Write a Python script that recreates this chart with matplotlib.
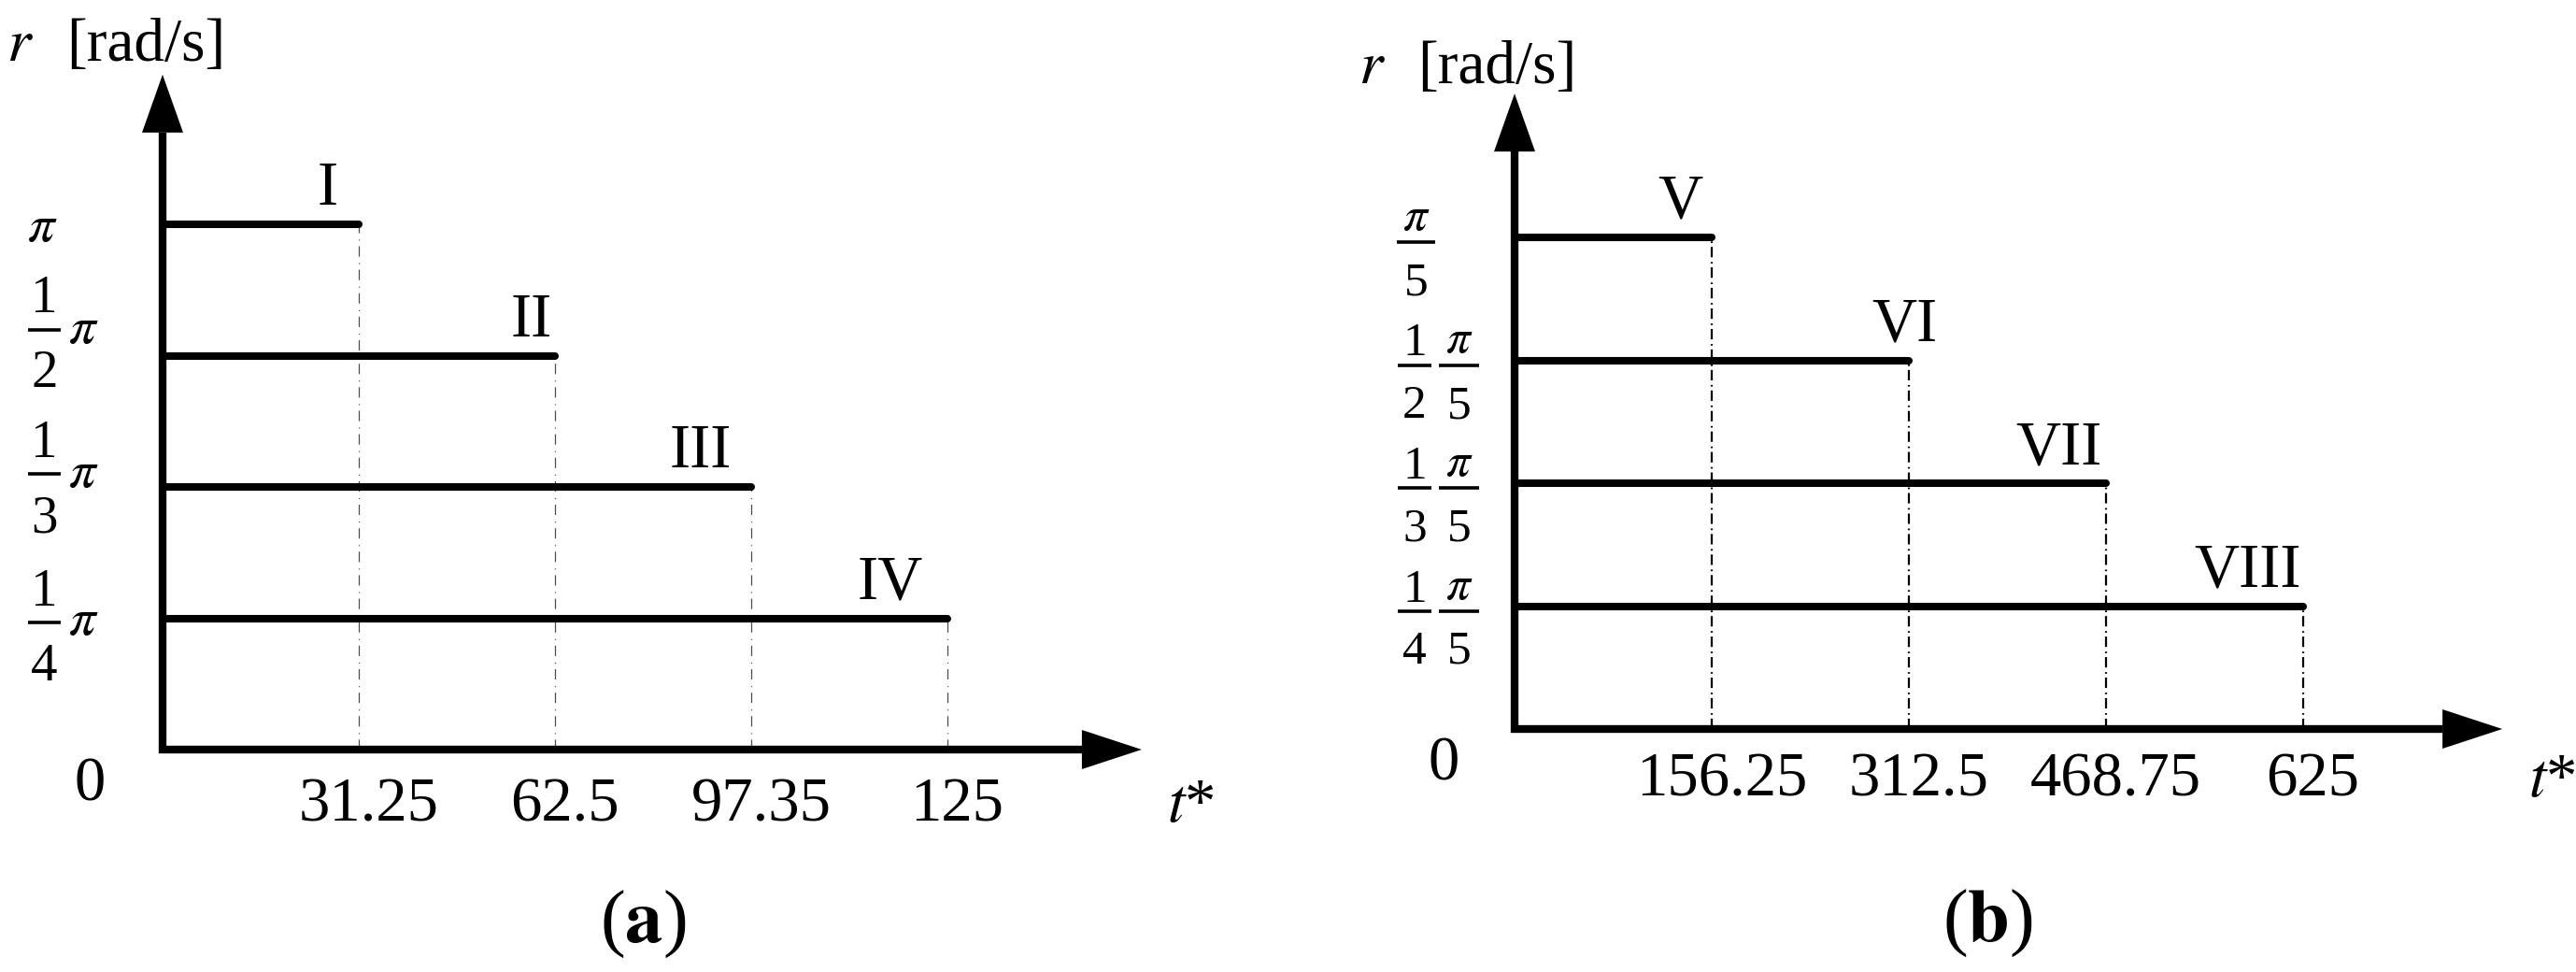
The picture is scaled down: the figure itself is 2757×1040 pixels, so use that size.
import numpy as np
import matplotlib
matplotlib.use('Agg')
import matplotlib.pyplot as plt
from matplotlib.patches import Polygon

plt.rcParams['font.family'] = ['Liberation Serif', 'DejaVu Serif']
plt.rcParams['mathtext.fontset'] = 'stix'
plt.rcParams['lines.scale_dashes'] = False

# (a) 区間ごとの値  (r = π / rate_div)
names_a = ['I', 'II', 'III', 'IV']
t_labels_a = ['31.25', '62.5', '97.35', '125']
rate_div_a = [1, 2, 3, 4]

# (b) 区間ごとの値  (r = (π/5) / rate_div)
names_b = ['V', 'VI', 'VII', 'VIII']
t_labels_b = ['156.25', '312.5', '468.75', '625']
rate_div_b = [1, 2, 3, 4]

W, H = 2757, 1040
fig = plt.figure(figsize=(W / 100, H / 100), dpi=100)
fig.patch.set_facecolor('white')

FS = 48        # 目盛り・区間名
FS_R = 47      # 縦軸名
FS_CAP = 58    # (a), (b)
FS_FA = 41     # 分数 (a)
FS_FB = 37     # 分数 (b)


def make_ax(ox, oy, sx, sy, xlim, ylim):
    # ox, oy: 原点のピクセル位置 (左, 上から), sx, sy: 1目盛りのピクセル数
    left = ox + xlim[0] * sx
    bottom = (H - oy) + ylim[0] * sy
    ax = fig.add_axes([left / W, bottom / H,
                       (xlim[1] - xlim[0]) * sx / W, (ylim[1] - ylim[0]) * sy / H])
    ax.set_xlim(*xlim)
    ax.set_ylim(*ylim)
    ax.axis('off')
    return ax


def frac(ax, x0, x1, yb, num, den, fs, sy, g_num, g_den):
    # 分数: 分子, 分数線, 分母
    cx = (x0 + x1) / 2
    ax.plot([x0, x1], [yb, yb], color='k', lw=2.6, solid_capstyle='butt')
    ax.text(cx, yb + g_num / sy, num, ha='center', va='baseline', fontsize=fs)
    ax.text(cx, yb - g_den / sy, den, ha='center', va='top', fontsize=fs)


def draw_panel(ax, sx, sy, names, t_labels, name_dx, cap,
               ytip, xtip, dash, dash_lw, dash_color, lab):
    n = len(names)
    ends = np.arange(1, n + 1)
    levels = np.arange(n, 0, -1)

    ax.vlines(ends, 0, levels, colors=dash_color, linestyles=[dash], lw=dash_lw, zorder=1)
    ax.hlines(levels, 0, ends, colors='k', lw=5.8, capstyle='round', zorder=2)

    # 座標軸と矢印
    hl_y, hw_y = 62 / sy, 22 / sx
    hl_x, hw_x = 64 / sx, 21 / sy
    ax.plot([0, 0, xtip - hl_x], [ytip - hl_y, 0, 0], color='k', lw=6,
            solid_joinstyle='miter', solid_capstyle='butt', zorder=3)
    ax.add_patch(Polygon([[0, ytip], [-hw_y, ytip - hl_y], [hw_y, ytip - hl_y]],
                         closed=True, color='k', lw=0, zorder=3))
    ax.add_patch(Polygon([[xtip, 0], [xtip - hl_x, hw_x], [xtip - hl_x, -hw_x]],
                         closed=True, color='k', lw=0, zorder=3))

    # 区間名
    for e, lv, nm, dx in zip(ends, levels, names, name_dx):
        ax.text(e + dx, lv + 21 / sy, nm, ha='center', va='baseline', fontsize=FS)

    # 横軸ラベル
    base = lab['tick_base']
    for e, tl in zip(ends, t_labels):
        ax.text(e + 0.05, base, tl, ha='center', va='baseline', fontsize=FS)

    ax.text(lab['zero'][0], lab['zero'][1], '0', ha='center', va='center', fontsize=FS)
    ax.text(lab['t'], base, r'$t$*', ha='left', va='baseline', fontsize=FS)
    ax.text(lab['r'][0], lab['r'][2], r'$r$', ha='left', va='baseline', fontsize=FS_R)
    ax.text(lab['r'][1], lab['r'][2], '[rad/s]', ha='left', va='baseline', fontsize=FS_R)
    ax.text(lab['cap'][0], lab['cap'][1], cap, ha='center', va='center', fontsize=FS_CAP)
    return levels


# (a)
sx_a, sy_a = 210, 140.5
ax_a = make_ax(174, 802, sx_a, sy_a, (-0.83, 5.6), (-1.69, 5.7))
lv_a = draw_panel(ax_a, sx_a, sy_a, names_a, t_labels_a,
                  name_dx=[-0.16, -0.12, -0.26, -0.29], cap=r'($\mathbf{a}$)',
                  ytip=5.14, xtip=4.99, dash=(0, (8, 4.3, 0.8, 5)), dash_lw=0.9,
                  dash_color='0.3',
                  lab={'tick_base': -0.548, 'zero': (-0.37, -0.27), 't': 5.12,
                       'r': (-0.795, -0.49, 5.245), 'cap': (2.45, -1.33)})
bar_dy_a = [-4, 28, 14, -4]   # 分数線の横線からのずれ (px)
for lv, d, dy in zip(lv_a, rate_div_a, bar_dy_a):
    yb = lv + dy / sy_a
    if d == 1:
        ax_a.text(-0.612, yb, r'$\pi$', ha='center', va='center', fontsize=FS_FA)
    else:
        frac(ax_a, -0.686, -0.519, yb, '1', str(d), FS_FA, sy_a, 18, 22)
        ax_a.text(-0.481, yb, r'$\pi$', ha='left', va='center', fontsize=FS_FA)

# (b)
sx_b, sy_b = 211, 131.5
ax_b = make_ax(1621, 780, sx_b, sy_b, (-0.83, 5.4), (-1.95, 5.9))
lv_b = draw_panel(ax_b, sx_b, sy_b, names_b, t_labels_b,
                  name_dx=[-0.16, -0.02, -0.24, -0.28], cap=r'($\mathbf{b}$)',
                  ytip=5.17, xtip=5.01, dash=(0, (8, 3, 1.2, 3.6)), dash_lw=1.6,
                  dash_color='k',
                  lab={'tick_base': -0.547, 'zero': (-0.36, -0.29), 't': 5.14,
                       'r': (-0.79, -0.49, 5.255), 'cap': (2.40, -1.58)})
for lv, d in zip(lv_b, rate_div_b):
    yb = lv - 5 / sy_b
    if d == 1:
        frac(ax_b, -0.597, -0.403, yb, r'$\pi$', '5', FS_FB, sy_b, 13, 21)
    else:
        frac(ax_b, -0.593, -0.422, yb, '1', str(d), FS_FB, sy_b, 10, 21)
        frac(ax_b, -0.384, -0.180, yb, r'$\pi$', '5', FS_FB, sy_b, 13, 21)

fig.savefig('out.png', dpi=100, facecolor='white')
